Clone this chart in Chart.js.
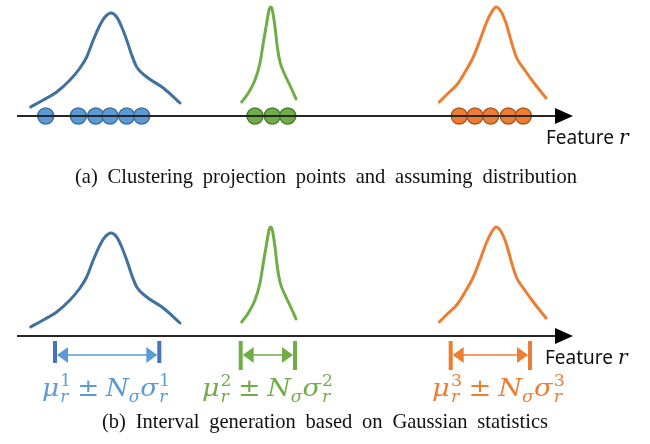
<!DOCTYPE html>
<html>
<head>
<meta charset="utf-8">
<script src="https://cdn.jsdelivr.net/npm/chart.js@4.4.1/dist/chart.umd.min.js"></script>
<style>
  body { margin: 0; background: #fff; }
  #lienzo { position: relative; width: 650px; height: 444px; overflow: hidden; background: #fff; }
  .panel { position: absolute; left: 0; width: 650px; height: 222px; }
  .txt { position: absolute; white-space: nowrap; transform-origin: 0 0; }
  .feature { font-family: "Noto Sans", sans-serif; font-size: 19px; line-height: 19px; color: #111; }
  .feature i { font-family: "DejaVu Serif", serif; font-size: 20px; margin-left: 5px; }
  .caption { font-family: "Liberation Serif", serif; font-size: 22px; line-height: 22px; color: #111; word-spacing: 5px; }
  .formula { font-family: "DejaVu Serif", serif; font-size: 25px; line-height: 25px; font-style: italic; }
  .formula .up { font-style: normal; }
  .formula .op { font-style: normal; margin: 0 6px; }
  .ss { display: inline-grid; font-size: 16px; line-height: 16px; margin-left: 1px; }
  .ss > span { grid-area: 1 / 1; }
  .ss .up { transform: translateY(-10px); }
  .ss .dn { transform: translateY(6px); }
  .sb { font-size: 16px; position: relative; top: 6px; }
</style>
</head>
<body>
<div id="lienzo">
  <div class="panel" style="top:0"><canvas id="graficoA" width="650" height="222"></canvas></div>
  <div class="panel" style="top:220px"><canvas id="graficoB" width="650" height="222"></canvas></div>

  <div class="txt feature" style="left:546px; top:128px">Feature<i>r</i></div>
  <div class="txt feature" style="left:545px; top:348px">Feature<i>r</i></div>

  <div class="txt caption" data-w="502" style="left:75px; top:165px">(a) Clustering projection points and assuming distribution</div>
  <div class="txt caption" data-w="446" style="left:102px; top:410px">(b) Interval generation based on Gaussian statistics</div>

  <div class="txt formula" data-w="128" style="left:42px; top:375px; color:#5B9BD5">μ<span class="ss"><span class="up">1</span><span class="dn">r</span></span><span class="op">±</span>N<span class="sb">σ</span>σ<span class="ss"><span class="up">1</span><span class="dn">r</span></span></div>
  <div class="txt formula" data-w="131" style="left:202px; top:375px; color:#70AD47">μ<span class="ss"><span class="up">2</span><span class="dn">r</span></span><span class="op">±</span>N<span class="sb">σ</span>σ<span class="ss"><span class="up">2</span><span class="dn">r</span></span></div>
  <div class="txt formula" data-w="133" style="left:432px; top:375px; color:#ED7D31">μ<span class="ss"><span class="up">3</span><span class="dn">r</span></span><span class="op">±</span>N<span class="sb">σ</span>σ<span class="ss"><span class="up">3</span><span class="dn">r</span></span></div>
</div>

<script>
// eje de la caracteristica r (unidades de la figura)
const ejeInicio = 1.7;
const ejeFin = 57.3;

// curvas de distribucion supuestas
const curvaAzulX = [3.07, 4.33, 5.67, 7.0, 8.0, 8.67, 9.33, 10.0, 10.5, 11.1, 11.67, 12.17, 12.67, 13.17, 13.67, 14.67, 16.33, 18.0];
const curvaAzulY = [0.09, 0.16, 0.24, 0.36, 0.48, 0.59, 0.76, 0.91, 0.99, 1.03, 0.99, 0.89, 0.76, 0.61, 0.49, 0.39, 0.28, 0.13];
const curvaVerdeX = [24.17, 24.83, 25.5, 26.0, 26.33, 26.67, 26.93, 27.07, 27.23, 27.5, 27.73, 28.0, 28.5, 29.07, 29.6];
const curvaVerdeY = [0.14, 0.23, 0.36, 0.53, 0.73, 0.93, 1.07, 1.09, 1.06, 0.89, 0.69, 0.54, 0.41, 0.29, 0.17];
const curvaNaranjaX = [43.93, 44.83, 45.67, 46.5, 47.33, 48.0, 48.67, 49.17, 49.6, 50.07, 50.6, 51.17, 51.67, 52.33, 53.33, 54.6];
const curvaNaranjaY = [0.14, 0.23, 0.31, 0.44, 0.59, 0.76, 0.94, 1.04, 1.09, 1.05, 0.93, 0.73, 0.58, 0.48, 0.34, 0.18];

// puntos proyectados de cada cluster
const puntosAzul = [4.57, 7.83, 9.57, 11.0, 12.67, 14.17];
const puntosVerde = [25.5, 27.23, 28.77];
const puntosNaranja = [45.93, 47.5, 49.07, 50.83, 52.33];

// intervalos mu +- N sigma
const intervaloIzq = [5.5, 24.07, 45.07];
const intervaloDer = [15.93, 29.5, 53.0];

const colorLinea = ['#41719C', '#70AD47', '#ED7D31'];
const colorRelleno = ['#5B9BD5', '#70AD47', '#ED7D31'];
const colorBorde = ['#41719C', '#507E32', '#AE5A21'];
const colorBarra = ['#4472C4', '#70AD47', '#ED7D31'];

const aPuntos = (xs, ys) => xs.map((x, i) => ({ x, y: ys[i] }));

const flechasPlugin = {
  id: 'flechas',
  afterDatasetsDraw(chart, args, opts) {
    const { ctx, scales: { x, y } } = chart;
    const y0 = y.getPixelForValue(0);
    const xt = x.getPixelForValue(ejeFin);
    ctx.save();
    ctx.fillStyle = '#000';
    ctx.beginPath();
    ctx.moveTo(xt, y0);
    ctx.lineTo(xt - 18, y0 - 8);
    ctx.lineTo(xt - 18, y0 + 8);
    ctx.closePath();
    ctx.fill();

    if (opts.intervalos) {
      const yl = y.getPixelForValue(-0.19);
      intervaloIzq.forEach((izq, i) => {
        const xl = x.getPixelForValue(izq);
        const xr = x.getPixelForValue(intervaloDer[i]);
        const yTop = y.getPixelForValue(-0.05);
        const yBot = y.getPixelForValue(i === 0 ? -0.27 : -0.34);
        // barras de los extremos
        ctx.fillStyle = colorBarra[i];
        ctx.fillRect(xl - 2, yTop, 4, yBot - yTop);
        ctx.fillRect(xr - 2, yTop, 4, yBot - yTop);
        // flecha doble
        ctx.strokeStyle = colorRelleno[i];
        ctx.lineWidth = 1.5;
        ctx.beginPath();
        ctx.moveTo(xl + 8, yl);
        ctx.lineTo(xr - 8, yl);
        ctx.stroke();
        ctx.fillStyle = colorRelleno[i];
        ctx.beginPath();
        ctx.moveTo(xl + 2, yl);
        ctx.lineTo(xl + 13, yl - 8);
        ctx.lineTo(xl + 13, yl + 8);
        ctx.closePath();
        ctx.fill();
        ctx.beginPath();
        ctx.moveTo(xr - 2, yl);
        ctx.lineTo(xr - 13, yl - 8);
        ctx.lineTo(xr - 13, yl + 8);
        ctx.closePath();
        ctx.fill();
      });
    }
    ctx.restore();
  }
};

function curva(xs, ys, i) {
  return {
    data: aPuntos(xs, ys),
    showLine: true,
    borderColor: colorLinea[i],
    borderWidth: 3,
    borderCapStyle: 'round',
    pointRadius: 0,
    cubicInterpolationMode: 'monotone'
  };
}

function puntos(xs, i) {
  return {
    data: xs.map(x => ({ x, y: 0 })),
    showLine: false,
    pointRadius: 8,
    pointBorderWidth: 1.5,
    backgroundColor: colorRelleno[i],
    borderColor: colorBorde[i]
  };
}

function crearPanel(id, conPuntos) {
  const datasets = [
    {
      data: [{ x: ejeInicio, y: 0 }, { x: ejeFin - 1, y: 0 }],
      showLine: true,
      borderColor: '#262626',
      borderWidth: 2,
      pointRadius: 0
    },
    curva(curvaAzulX, curvaAzulY, 0),
    curva(curvaVerdeX, curvaVerdeY, 1),
    curva(curvaNaranjaX, curvaNaranjaY, 2)
  ];
  if (conPuntos) {
    datasets.push(puntos(puntosAzul, 0), puntos(puntosVerde, 1), puntos(puntosNaranja, 2));
  }
  return new Chart(document.getElementById(id).getContext('2d'), {
    type: 'scatter',
    data: { datasets },
    options: {
      responsive: false,
      animation: false,
      devicePixelRatio: 1,
      layout: { padding: 0, autoPadding: false },
      plugins: {
        legend: { display: false },
        tooltip: { enabled: false },
        flechas: { intervalos: !conPuntos }
      },
      scales: {
        x: { type: 'linear', min: 0, max: 65, display: false },
        y: { type: 'linear', min: -1.06, max: 1.16, display: false }
      }
    },
    plugins: [flechasPlugin]
  });
}

crearPanel('graficoA', true);
crearPanel('graficoB', false);

// ajustar el ancho de los textos al de la figura
document.querySelectorAll('.txt[data-w]').forEach(el => {
  const w = el.getBoundingClientRect().width;
  el.style.transform = `scaleX(${el.dataset.w / w})`;
});
</script>
</body>
</html>
